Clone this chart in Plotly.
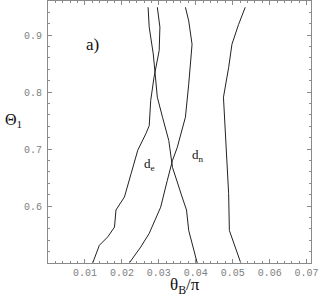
import plotly.graph_objects as go

# Curve data (theta_B/pi, Theta_1)
a_x = [0.0121, 0.0139, 0.0162, 0.0180, 0.0184, 0.0207, 0.0225, 0.0243, 0.0265, 0.0274, 0.0278, 0.0287, 0.0301, 0.0303, 0.0296]
a_y = [0.500, 0.531, 0.546, 0.563, 0.593, 0.616, 0.657, 0.698, 0.727, 0.741, 0.785, 0.826, 0.873, 0.914, 0.949]

b_x = [0.0271, 0.0274, 0.0285, 0.0296, 0.0310, 0.0327, 0.0337, 0.0345, 0.0363, 0.0375, 0.0381, 0.0404]
b_y = [0.949, 0.914, 0.867, 0.791, 0.756, 0.715, 0.668, 0.651, 0.616, 0.593, 0.557, 0.500]

c_x = [0.0220, 0.0251, 0.0274, 0.0305, 0.0323, 0.0337, 0.0350, 0.0372, 0.0381, 0.0390, 0.0381, 0.0372]
c_y = [0.500, 0.528, 0.552, 0.598, 0.645, 0.680, 0.703, 0.756, 0.814, 0.884, 0.925, 0.949]

d_x = [0.0534, 0.0516, 0.0498, 0.0489, 0.0475, 0.0480, 0.0489, 0.0491, 0.0507, 0.0522]
d_y = [0.949, 0.919, 0.884, 0.843, 0.791, 0.727, 0.622, 0.557, 0.528, 0.500]

x_ticks = [0.01, 0.02, 0.03, 0.04, 0.05, 0.06, 0.07]
x_labels = ["0.01", "0.02", "0.03", "0.04", "0.05", "0.06", "0.07"]
y_ticks = [0.6, 0.7, 0.8, 0.9]
y_labels = ["0.6", "0.7", "0.8", "0.9"]

fig = go.Figure()
for xs, ys in [(a_x, a_y), (b_x, b_y), (c_x, c_y), (d_x, d_y)]:
    fig.add_trace(go.Scatter(x=xs, y=ys, mode="lines",
                             line=dict(color="#222222", width=1), showlegend=False))

axis_common = dict(showline=True, linecolor="#8a8a8a", linewidth=1, mirror="ticks",
                   ticks="inside", ticklen=4, tickcolor="#8a8a8a", showgrid=False,
                   zeroline=False,
                   tickfont=dict(family="Liberation Mono", size=10, color="#808080"))

fig.update_xaxes(range=[0, 0.0712], tickvals=x_ticks, ticktext=x_labels,
                 minor=dict(ticks="inside", ticklen=2, dtick=0.002, tick0=0,
                            tickcolor="#8a8a8a", showgrid=False),
                 **axis_common)
fig.update_yaxes(range=[0.5, 0.96], tickvals=y_ticks, ticktext=y_labels,
                 ticklabelstandoff=3,
                 minor=dict(ticks="inside", ticklen=2, dtick=0.02, tick0=0.5,
                            tickcolor="#8a8a8a", showgrid=False),
                 **axis_common)

serif = dict(family="Liberation Serif", color="#111111")
fig.add_annotation(x=0.012, y=0.883, xref="x", yref="y", text="a)", showarrow=False,
                   font=dict(size=17, **serif))
fig.add_annotation(x=0.0276, y=0.673, xref="x", yref="y", text="d<sub>e</sub>", showarrow=False,
                   font=dict(size=13, **serif))
fig.add_annotation(x=0.0405, y=0.689, xref="x", yref="y", text="d<sub>n</sub>", showarrow=False,
                   font=dict(size=13, **serif))
fig.add_annotation(x=0.0325, y=-0.04, xref="x", yref="paper", text="θ<sub>B</sub>/π",
                   xanchor="left", yanchor="top",
                   showarrow=False, font=dict(size=17, **serif))
fig.add_annotation(x=-0.172, y=0.75, xref="paper", yref="y", text="Θ<sub>1</sub>",
                   xanchor="left",
                   showarrow=False, font=dict(size=16, **serif))

fig.update_layout(width=327, height=298, plot_bgcolor="white", paper_bgcolor="white",
                  margin=dict(l=47.5, r=15.5, t=1, b=34.5))

fig.write_html("out.html", config={"displayModeBar": False},
               post_script="document.body.style.margin='0';")
